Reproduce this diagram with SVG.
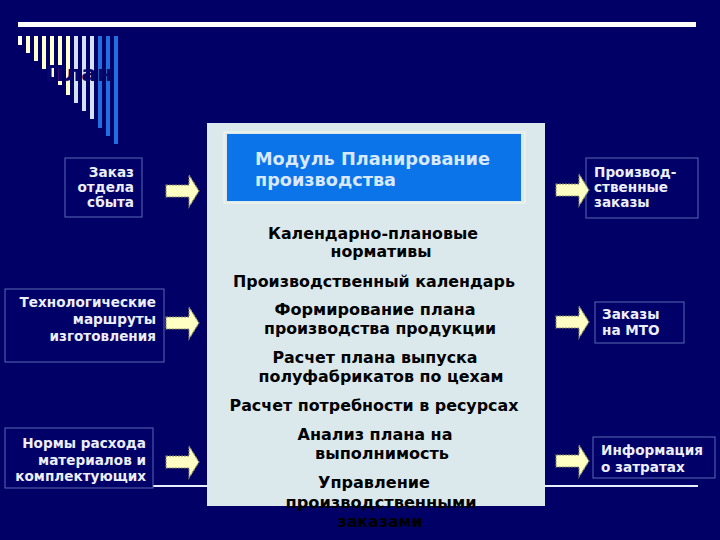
<svg xmlns="http://www.w3.org/2000/svg" width="720" height="540" viewBox="0 0 720 540">
<defs>
<style>
.bg{fill:#000066}
.box{fill:#000068;stroke:#5a68b0;stroke-width:1}
.bt{font-family:"DejaVu Sans",Verdana,sans-serif;font-weight:bold;font-size:13.6px;fill:#eceefa}
.ct{font-family:"DejaVu Sans",Verdana,sans-serif;font-weight:bold;font-size:15px;fill:#000000;text-anchor:middle}
.ht{font-family:"DejaVu Sans",Verdana,sans-serif;font-weight:bold;font-size:17px;fill:#d8e8ff}
.arr{fill:#ffffc4;stroke:#8a8a60;stroke-width:1.2;stroke-dasharray:2 1}
.y{fill:#ffffcc}.w{fill:#d4e0f4}.b{fill:#2070e0}
</style>
<path id="ar" d="M0,-6 H23 V-16 L33,0 L23,16 V6 H0 Z"/>
</defs>
<rect class="bg" x="0" y="0" width="720" height="540"/>
<g id="title">
<rect x="18" y="22" width="678" height="5" fill="#ffffff"/>
<rect x="18" y="36" width="4" height="9" fill="#ffffff"/>
<rect class="y" x="26" y="36" width="4" height="17"/>
<rect class="y" x="34" y="36" width="4" height="25"/>
<rect class="y" x="42" y="36" width="4" height="33"/>
<rect class="y" x="50" y="36" width="4" height="41"/>
<rect class="y" x="58" y="36" width="4" height="49"/>
<rect class="y" x="66" y="36" width="4" height="59"/>
<rect class="w" x="74" y="36" width="4" height="67"/>
<rect class="w" x="82" y="36" width="4" height="75"/>
<rect class="w" x="90" y="36" width="4" height="83"/>
<rect class="b" x="98" y="36" width="4" height="92"/>
<rect class="b" x="106" y="36" width="4" height="100"/>
<rect class="b" x="114" y="36" width="4" height="108"/>
<text x="45" y="81" font-family="DejaVu Sans,sans-serif" font-weight="bold" font-size="22" fill="#06066c" textLength="68" lengthAdjust="spacingAndGlyphs">План</text>
</g>
<rect x="21" y="485" width="677" height="2" fill="#e8ecff"/>
<g id="module">
<rect x="207" y="123" width="338" height="383" fill="#dbe9ec"/>
<rect x="224" y="132" width="301" height="71" fill="none" stroke="#f4f8e8" stroke-width="1"/>
<rect x="227" y="134" width="294" height="67" fill="#0a74e8"/>
<text class="ht" x="255" y="165" textLength="235" lengthAdjust="spacingAndGlyphs">Модуль Планирование</text>
<text class="ht" x="255" y="186" textLength="141" lengthAdjust="spacingAndGlyphs">производства</text>
<text class="ct" x="373" y="239" textLength="210" lengthAdjust="spacingAndGlyphs">Календарно-плановые</text>
<text class="ct" x="381" y="257" textLength="101" lengthAdjust="spacingAndGlyphs">нормативы</text>
<text class="ct" x="374" y="287" textLength="282" lengthAdjust="spacingAndGlyphs">Производственный календарь</text>
<text class="ct" x="375" y="315" textLength="201" lengthAdjust="spacingAndGlyphs">Формирование плана</text>
<text class="ct" x="380" y="334" textLength="232" lengthAdjust="spacingAndGlyphs">производства продукции</text>
<text class="ct" x="375" y="363" textLength="205" lengthAdjust="spacingAndGlyphs">Расчет плана выпуска</text>
<text class="ct" x="381" y="382" textLength="245" lengthAdjust="spacingAndGlyphs">полуфабрикатов по цехам</text>
<text class="ct" x="374" y="411" textLength="289" lengthAdjust="spacingAndGlyphs">Расчет потребности в ресурсах</text>
<text class="ct" x="375" y="440" textLength="155" lengthAdjust="spacingAndGlyphs">Анализ плана на</text>
<text class="ct" x="382" y="459" textLength="134" lengthAdjust="spacingAndGlyphs">выполнимость</text>
<text class="ct" x="374" y="488" textLength="112" lengthAdjust="spacingAndGlyphs">Управление</text>
<text class="ct" x="381" y="508" textLength="191" lengthAdjust="spacingAndGlyphs">производственными</text>
<text class="ct" x="380" y="527" textLength="85" lengthAdjust="spacingAndGlyphs">заказами</text>
</g>
<g id="in-sales">
<rect class="box" x="65" y="158" width="77" height="59"/>
<text class="bt" x="134" y="177" text-anchor="end">Заказ</text>
<text class="bt" x="134" y="192" text-anchor="end">отдела</text>
<text class="bt" x="134" y="207" text-anchor="end">сбыта</text>
</g>
<g id="in-routes">
<rect class="box" x="5" y="289" width="159" height="73"/>
<text class="bt" x="156" y="307" text-anchor="end">Технологические</text>
<text class="bt" x="156" y="324" text-anchor="end">маршруты</text>
<text class="bt" x="156" y="341" text-anchor="end">изготовления</text>
</g>
<g id="in-norms">
<rect class="box" x="5" y="428" width="148" height="60"/>
<text class="bt" x="146" y="448" text-anchor="end">Нормы расхода</text>
<text class="bt" x="146" y="465" text-anchor="end">материалов и</text>
<text class="bt" x="146" y="481" text-anchor="end">комплектующих</text>
</g>
<g id="out-orders">
<rect class="box" x="586" y="158" width="112" height="60"/>
<text class="bt" x="594" y="177">Производ-</text>
<text class="bt" x="594" y="192">ственные</text>
<text class="bt" x="594" y="207">заказы</text>
</g>
<g id="out-mto">
<rect class="box" x="595" y="302" width="89" height="41"/>
<text class="bt" x="602" y="319">Заказы</text>
<text class="bt" x="602" y="335">на МТО</text>
</g>
<g id="out-costs">
<rect class="box" x="593" y="437" width="122" height="41"/>
<text class="bt" x="601" y="455">Информация</text>
<text class="bt" x="601" y="472">о затратах</text>
</g>
<g id="connectors">
<use href="#ar" class="arr" transform="translate(166,191)"/>
<use href="#ar" class="arr" transform="translate(166,323)"/>
<use href="#ar" class="arr" transform="translate(166,462)"/>
<use href="#ar" class="arr" transform="translate(556,190)"/>
<use href="#ar" class="arr" transform="translate(556,322)"/>
<use href="#ar" class="arr" transform="translate(556,461)"/>
</g>
</svg>
